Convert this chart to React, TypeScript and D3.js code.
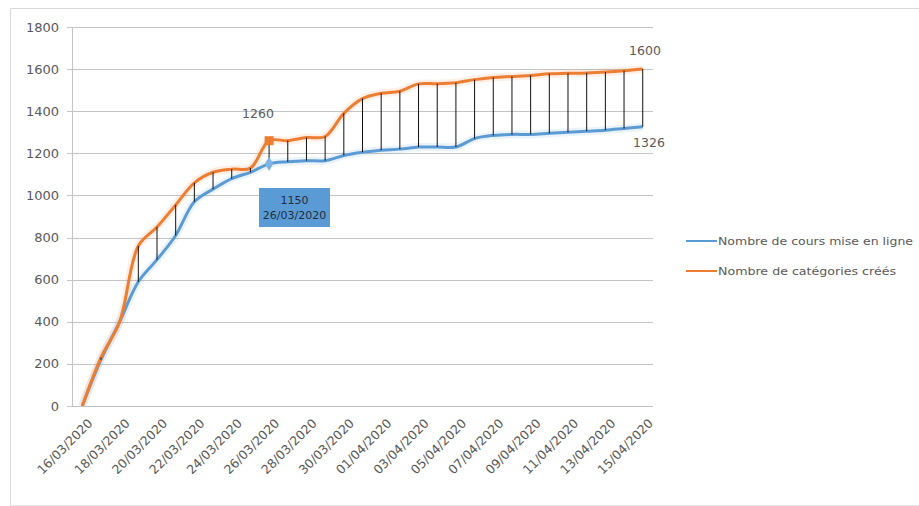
import React from "react";
import * as d3 from "d3";

const dates = [
  "16/03/2020","17/03/2020","18/03/2020","19/03/2020","20/03/2020","21/03/2020","22/03/2020","23/03/2020",
  "24/03/2020","25/03/2020","26/03/2020","27/03/2020","28/03/2020","29/03/2020","30/03/2020","31/03/2020",
  "01/04/2020","02/04/2020","03/04/2020","04/04/2020","05/04/2020","06/04/2020","07/04/2020","08/04/2020",
  "09/04/2020","10/04/2020","11/04/2020","12/04/2020","13/04/2020","14/04/2020","15/04/2020",
];
const cours = [0,220,400,590,695,810,970,1030,1080,1110,1150,1160,1165,1165,1190,1205,1215,1220,1230,1230,1230,1270,1285,1290,1290,1295,1300,1305,1310,1318,1326];
const categories = [0,230,400,760,850,955,1060,1110,1125,1130,1260,1260,1275,1280,1390,1460,1485,1495,1530,1530,1535,1550,1560,1565,1570,1578,1580,1582,1586,1592,1600];
const yTicks = [0,200,400,600,800,1000,1200,1400,1600,1800];
const seriesNames = ["Nombre de cours mise en ligne", "Nombre de catégories créés"];
const legendWidths = [195, 178];
const BLUE = "#5b9bd5";
const ORANGE = "#ed7d31";

export default function App() {
  const W = 919, H = 506;
  const x = d3.scalePoint<number>().domain(dates.map((_, i) => i)).range([72, 653]).padding(0.55);
  const y = d3.scaleLinear().domain([0, 1800]).range([406, 27]);
  const line = d3.line<number>().x((_, i) => x(i)!).y((d) => y(d)).curve(d3.curveCatmullRom.alpha(0.5));
  const font = "'DejaVu Sans', sans-serif";
  const txt = "#595959";
  const hi = 10;
  return (
    <div style={{ position: "fixed", left: 0, top: 0 }}>
      <svg width={W} height={H} style={{ display: "block", background: "#fff" }}>
        <path d={`M10.5,${H} V8.5 H${W}`} fill="none" stroke="#d9d9d9" />
        <line x1={10} x2={W} y1={505.5} y2={505.5} stroke="#e6e6e6" />
        {yTicks.map((t) => (
          <g key={t}>
            <line x1={67} x2={653} y1={Math.round(y(t)) + 0.5} y2={Math.round(y(t)) + 0.5} stroke="#c4c4c4" />
            <text x={59} y={y(t)} dy="0.35em" textAnchor="end" fontFamily={font} fontSize={13} fill={txt}>{t}</text>
          </g>
        ))}
        <line x1={72.5} x2={72.5} y1={27} y2={406} stroke="#c4c4c4" />
        <path d={line(cours)!} fill="none" stroke={BLUE} strokeOpacity={0.12} strokeWidth={8} />
        <path d={line(categories)!} fill="none" stroke={ORANGE} strokeOpacity={0.12} strokeWidth={8} />
        <path d={line(cours)!} fill="none" stroke={BLUE} strokeWidth={3} strokeLinejoin="round" />
        <path d={line(categories)!} fill="none" stroke={ORANGE} strokeWidth={3} strokeLinejoin="round" />
        {dates.map((d, i) => (
          <line key={"h2" + i} x1={x(i)} x2={x(i)} y1={y(categories[i])} y2={y(cours[i])} stroke="#111" strokeWidth={1} />
        ))}
        <rect x={x(hi)! - 4.5} y={y(categories[hi]) - 4.5} width={9} height={9} fill={ORANGE} />
        <path d={d3.symbol(d3.symbolDiamond, 60)()!} transform={`translate(${x(hi)},${y(cours[hi])})`} fill="#7fb3e3" />
        <text x={258} y={114} dy="0.35em" textAnchor="middle" fontFamily={font} fontSize={12.5} fill={txt}>{categories[hi]}</text>
        <rect x={259} y={188} width={71} height={39} fill="#5b9bd5" />
        <text x={294.5} y={200} dy="0.35em" textAnchor="middle" fontFamily={font} fontSize={11} fill="#1f2d3d">{cours[hi]}</text>
        <text x={294.5} y={215} dy="0.35em" textAnchor="middle" fontFamily={font} fontSize={11} fill="#1f2d3d">{dates[hi]}</text>
        <text x={645} y={51} dy="0.35em" textAnchor="middle" fontFamily={font} fontSize={12.5} fill={txt}>{categories[30]}</text>
        <text x={649} y={143} dy="0.35em" textAnchor="middle" fontFamily={font} fontSize={12.5} fill={txt}>{cours[30]}</text>
        <line x1={72} x2={653} y1={406.5} y2={406.5} stroke="#bfbfbf" />
        {dates.map((d, i) =>
          i % 2 === 0 ? (
            <text key={"x" + i} transform={`translate(${x(i)! + 8},${421}) rotate(-45)`} textAnchor="end" dy="0.35em" fontFamily={font} fontSize={12.5} fill={txt}>{d}</text>
          ) : null
        )}
        {seriesNames.map((n, k) => (
          <g key={n} transform={`translate(686,${241 + k * 30})`}>
            <line x1={0} x2={31} y1={0} y2={0} stroke={k === 0 ? BLUE : ORANGE} strokeWidth={2} />
            <text x={32} y={0} dy="0.35em" fontFamily={font} fontSize={11} textLength={legendWidths[k]} lengthAdjust="spacingAndGlyphs" fill={txt}>{n}</text>
          </g>
        ))}
      </svg>
    </div>
  );
}
